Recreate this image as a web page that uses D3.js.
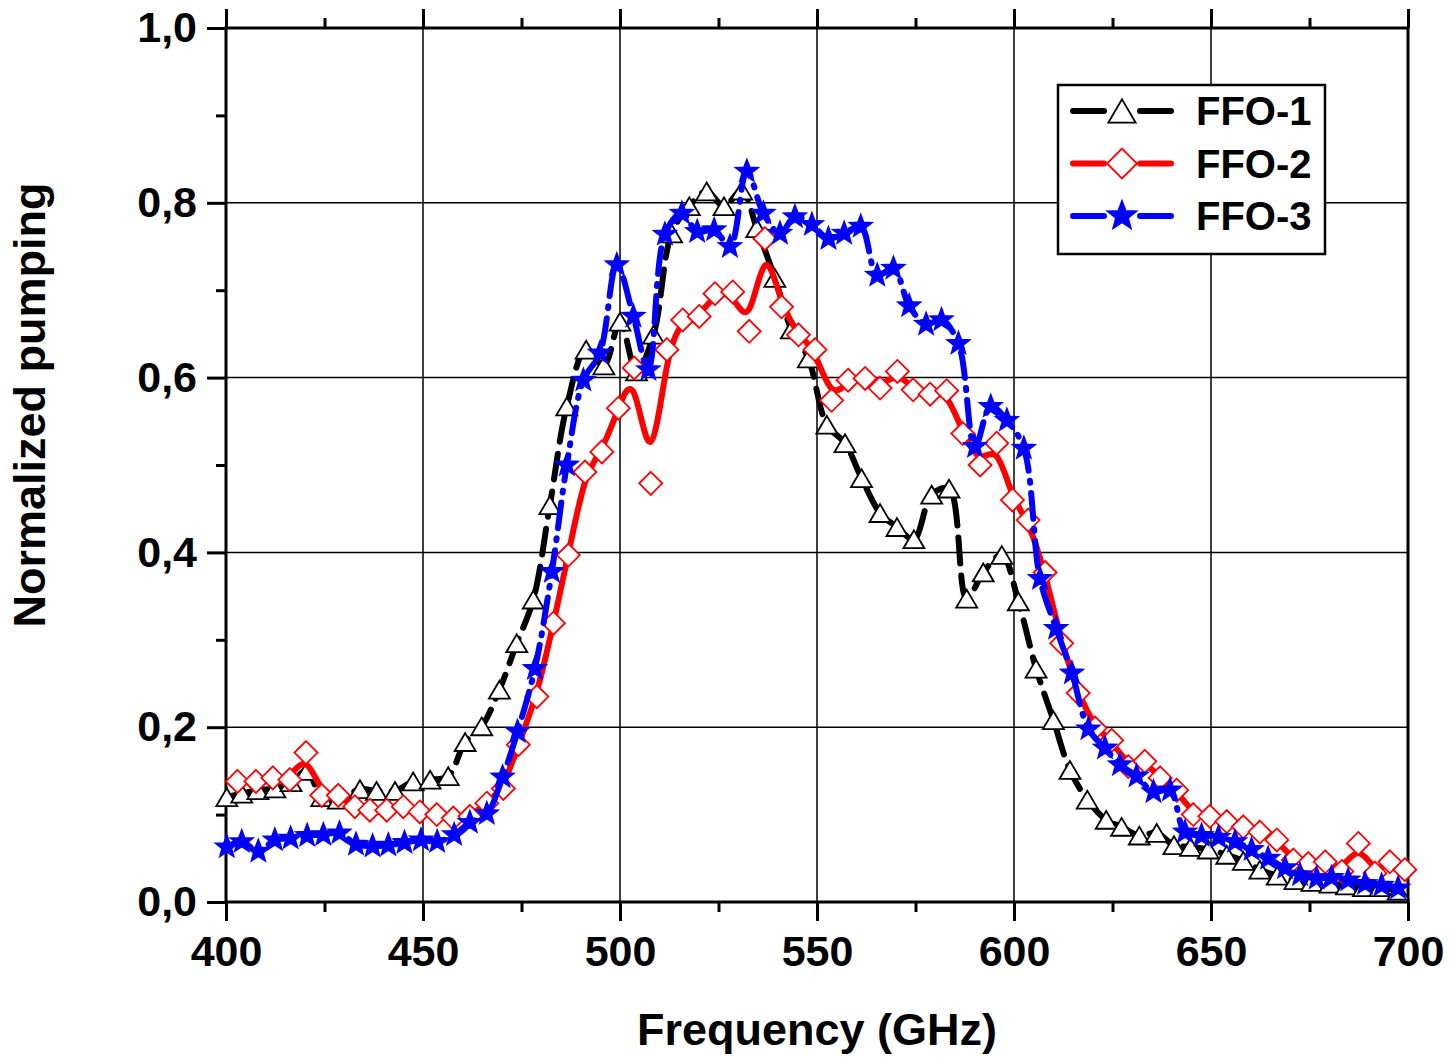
<!DOCTYPE html>
<html lang="en">
<head>
    <meta charset="UTF-8">
    <title>Normalized pumping</title>
    <script src="https://d3js.org/d3.v7.js"></script>
    <style>
        body { margin: 0; background: #fff; }
        text { font-family: "Liberation Sans", Arial, sans-serif; font-weight: bold; }
    </style>
</head>
<body>
<svg></svg>
<script>
    {
        // FFO-1 (black, triangles)
        let ffo1X = [400.2, 404.0, 408.1, 412.4, 416.5, 420.5, 424.3, 428.5, 434.0, 438.2, 442.9, 447.5, 451.8, 456.4,
            460.7, 464.9, 469.4, 473.8, 478.0, 482.2, 486.5, 491.4, 495.9, 500.0, 504.2, 508.5, 513.1, 517.6, 522.0,
            526.4, 530.9, 534.7, 539.3, 543.5, 547.8, 552.5, 557.1, 561.3, 566.0, 570.3, 574.6, 579.1, 583.5, 588.0,
            592.2, 596.9, 601.1, 605.6, 610.0, 614.2, 618.6, 623.4, 627.3, 631.8, 636.2, 640.6, 644.8, 649.3, 654.0,
            658.2, 662.4, 666.8, 671.3, 675.6, 680.2, 684.4, 688.7, 692.9, 697.5];
        let ffo1Y = [0.120, 0.124, 0.128, 0.130, 0.137, 0.150, 0.120, 0.117, 0.129, 0.127, 0.127, 0.138, 0.140, 0.144,
            0.183, 0.201, 0.243, 0.296, 0.346, 0.454, 0.567, 0.632, 0.614, 0.664, 0.607, 0.649, 0.765, 0.796, 0.813,
            0.796, 0.814, 0.771, 0.714, 0.655, 0.622, 0.546, 0.525, 0.485, 0.445, 0.429, 0.415, 0.466, 0.473, 0.347,
            0.377, 0.397, 0.344, 0.267, 0.208, 0.151, 0.117, 0.094, 0.086, 0.076, 0.079, 0.065, 0.063, 0.060, 0.054,
            0.047, 0.037, 0.030, 0.025, 0.023, 0.021, 0.019, 0.017, 0.017, 0.013];

        // FFO-2 (red, diamonds)
        let ffo2X = [402.9, 407.6, 411.9, 416.2, 420.3, 424.3, 428.5, 432.7, 436.5, 440.8, 445.0, 449.2, 453.5, 457.7,
            461.9, 466.2, 470.4, 474.2, 478.9, 483.1, 486.9, 491.1, 495.4, 499.6, 503.6, 507.8, 511.9, 515.9, 520.1,
            524.1, 528.6, 532.8, 536.8, 541.0, 545.3, 549.5, 553.7, 557.9, 562.2, 566.0, 570.4, 574.4, 578.7, 582.9,
            587.0, 591.4, 595.6, 599.6, 603.6, 607.9, 612.1, 616.3, 620.6, 624.8, 629.0, 633.2, 637.1, 641.3, 645.5,
            649.7, 654.0, 658.2, 662.4, 666.7, 670.9, 674.7, 679.0, 683.2, 687.4, 691.6, 695.4, 699.2];
        let ffo2Y = [0.138, 0.138, 0.142, 0.140, 0.171, 0.122, 0.122, 0.109, 0.105, 0.105, 0.109, 0.103, 0.100, 0.096,
            0.098, 0.113, 0.130, 0.180, 0.235, 0.319, 0.397, 0.492, 0.515, 0.565, 0.611, 0.479, 0.632, 0.666, 0.670,
            0.696, 0.698, 0.653, 0.759, 0.681, 0.649, 0.632, 0.574, 0.597, 0.599, 0.588, 0.607, 0.586, 0.581, 0.585,
            0.536, 0.500, 0.525, 0.460, 0.437, 0.377, 0.296, 0.239, 0.199, 0.185, 0.155, 0.161, 0.142, 0.128, 0.100,
            0.098, 0.092, 0.086, 0.080, 0.071, 0.048, 0.044, 0.046, 0.035, 0.067, 0.033, 0.046, 0.037];

        // FFO-3 (blue, stars)
        let ffo3X = [400.2, 404.0, 408.2, 412.4, 416.4, 420.6, 424.7, 428.8, 433.0, 437.2, 441.2, 445.3, 449.5, 453.6,
            457.9, 461.9, 466.2, 470.2, 474.0, 478.4, 482.7, 486.5, 490.7, 494.9, 499.2, 503.4, 507.2, 511.4, 515.7,
            519.6, 523.9, 527.9, 532.2, 536.4, 540.6, 544.4, 548.7, 552.9, 556.9, 561.1, 565.3, 569.4, 573.4, 577.7,
            581.6, 585.9, 590.1, 594.1, 598.2, 602.5, 606.6, 610.7, 614.7, 618.9, 623.1, 626.9, 631.1, 635.4, 639.6,
            643.4, 647.6, 651.9, 656.1, 660.3, 664.5, 668.8, 672.6, 676.8, 680.6, 684.8, 689.1, 693.3, 697.5];
        let ffo3Y = [0.063, 0.069, 0.058, 0.071, 0.073, 0.076, 0.077, 0.079, 0.066, 0.064, 0.065, 0.068, 0.071, 0.069,
            0.077, 0.091, 0.101, 0.143, 0.195, 0.267, 0.378, 0.500, 0.597, 0.628, 0.729, 0.670, 0.609, 0.764, 0.788,
            0.767, 0.769, 0.750, 0.836, 0.788, 0.765, 0.784, 0.775, 0.759, 0.765, 0.773, 0.717, 0.725, 0.682, 0.661,
            0.666, 0.639, 0.521, 0.567, 0.551, 0.519, 0.370, 0.313, 0.262, 0.198, 0.176, 0.157, 0.144, 0.126, 0.128,
            0.080, 0.076, 0.074, 0.069, 0.060, 0.050, 0.039, 0.031, 0.027, 0.028, 0.025, 0.021, 0.019, 0.016];

        let xTicks = [400, 450, 500, 550, 600, 650, 700];
        let xMinor = [425, 475, 525, 575, 625, 675];
        let yTicks = [0, 0.2, 0.4, 0.6, 0.8, 1.0];
        let yMinor = [0.1, 0.3, 0.5, 0.7, 0.9];
        let seriesNames = ["FFO-1", "FFO-2", "FFO-3"];

        let width = 1452;
        let height = 1059;
        let left = 226, right = 1408, top = 28, bottom = 902;

        let svg = d3.select("svg")
            .attr("width", width)
            .attr("height", height);

        let x = d3.scaleLinear().domain([400, 700]).range([left, right]);
        let y = d3.scaleLinear().domain([0, 1]).range([bottom, top]);

        let fmt = d => d3.format(".1f")(d).replace(".", ",");

        // grid
        let grid = svg.append("g");
        grid.selectAll("line.gx").data(xTicks).enter().append("line")
            .attr("x1", d => x(d)).attr("x2", d => x(d))
            .attr("y1", top).attr("y2", bottom)
            .attr("stroke", "#000").attr("stroke-width", 1.5);
        grid.selectAll("line.gy").data(yTicks).enter().append("line")
            .attr("x1", left).attr("x2", right)
            .attr("y1", d => y(d)).attr("y2", d => y(d))
            .attr("stroke", "#000").attr("stroke-width", 1.5);

        // axes
        function styleAxis(g) {
            g.select(".domain").remove();
            g.selectAll(".tick line").attr("stroke", "#000").attr("stroke-width", 3);
            g.selectAll(".tick text").attr("fill", "#000")
                .style("font-size", "43px").style("font-family", "'Liberation Sans', Arial, sans-serif")
                .style("font-weight", "bold");
        }

        svg.append("g").attr("transform", "translate(0," + bottom + ")")
            .call(d3.axisBottom(x).tickValues(xTicks).tickSize(19).tickPadding(14).tickFormat(d3.format("d")))
            .call(styleAxis);
        svg.append("g").attr("transform", "translate(0," + bottom + ")")
            .call(d3.axisBottom(x).tickValues(xMinor).tickSize(10).tickFormat(""))
            .call(styleAxis);
        svg.append("g").attr("transform", "translate(0," + top + ")")
            .call(d3.axisTop(x).tickValues(xTicks).tickSize(19).tickFormat(""))
            .call(styleAxis);
        svg.append("g").attr("transform", "translate(0," + top + ")")
            .call(d3.axisTop(x).tickValues(xMinor).tickSize(10).tickFormat(""))
            .call(styleAxis);
        svg.append("g").attr("transform", "translate(" + left + ",0)")
            .call(d3.axisLeft(y).tickValues(yTicks).tickSize(19).tickPadding(10).tickFormat(fmt))
            .call(styleAxis);
        svg.append("g").attr("transform", "translate(" + left + ",0)")
            .call(d3.axisLeft(y).tickValues(yMinor).tickSize(10).tickFormat(""))
            .call(styleAxis);

        // frame
        svg.append("rect")
            .attr("x", left).attr("y", top)
            .attr("width", right - left).attr("height", bottom - top)
            .attr("fill", "none").attr("stroke", "#000").attr("stroke-width", 3);

        // axis titles
        svg.append("text")
            .attr("x", 817).attr("y", 1045)
            .attr("text-anchor", "middle")
            .style("font-size", "45px")
            .text("Frequency (GHz)");
        svg.append("text")
            .attr("transform", "translate(45,405) rotate(-90)")
            .attr("text-anchor", "middle")
            .style("font-size", "45px")
            .text("Normalized pumping");

        // marker paths
        function triangle(s) {
            let w = s, h = s * 0.85;
            return "M0," + (-h / 2) + "L" + (w / 2) + "," + (h / 2) + "L" + (-w / 2) + "," + (h / 2) + "Z";
        }
        function diamond(s) {
            let r = s / 2;
            return "M0," + (-r) + "L" + r + ",0L0," + r + "L" + (-r) + ",0Z";
        }
        function star(s) {
            let ro = s / 2, ri = ro * 0.42, p = [];
            for (let i = 0; i < 10; i++) {
                let a = -Math.PI / 2 + i * Math.PI / 5;
                let r = i % 2 === 0 ? ro : ri;
                p.push([r * Math.cos(a), r * Math.sin(a)]);
            }
            return "M" + p.map(q => q[0].toFixed(2) + "," + q[1].toFixed(2)).join("L") + "Z";
        }

        let series = [
            {name: seriesNames[0], xs: ffo1X, ys: ffo1Y, color: "#000000", dash: "26,12",
                curve: d3.curveCatmullRom, shape: triangle, size: 21, fill: "#fff", mstroke: "#000"},
            {name: seriesNames[1], xs: ffo2X, ys: ffo2Y, color: "#ff0000", dash: null,
                curve: d3.curveBasis, shape: diamond, size: 23, fill: "#fff", mstroke: "#ff0000"},
            {name: seriesNames[2], xs: ffo3X, ys: ffo3Y, color: "#0000ff", dash: "26,10,2,10",
                curve: d3.curveCatmullRom, shape: star, size: 23, fill: "#0000ff", mstroke: "#0000ff"}
        ];

        let plot = svg.append("g");
        series.forEach(s => {
            let pts = s.xs.map((v, i) => [v, s.ys[i]]);
            let line = d3.line().x(d => x(d[0])).y(d => y(d[1])).curve(s.curve);
            plot.append("path")
                .attr("d", line(pts))
                .attr("fill", "none")
                .attr("stroke", s.color)
                .attr("stroke-width", 6)
                .attr("stroke-linecap", "round")
                .attr("stroke-linejoin", "round")
                .attr("stroke-dasharray", s.dash);
            plot.append("g").selectAll("path").data(pts).enter().append("path")
                .attr("transform", d => "translate(" + x(d[0]) + "," + y(d[1]) + ")")
                .attr("d", s.shape(s.size))
                .attr("fill", s.fill)
                .attr("stroke", s.mstroke)
                .attr("stroke-width", 1.8);
        });

        // legend
        let legend = svg.append("g");
        legend.append("rect")
            .attr("x", 1058).attr("y", 85).attr("width", 267).attr("height", 169)
            .attr("fill", "#fff").attr("stroke", "#000").attr("stroke-width", 2.5);
        let rows = legend.selectAll("g.row").data(series).enter().append("g")
            .attr("transform", (d, i) => "translate(0," + (111 + i * 52.5) + ")");
        rows.append("line").attr("x1", 1073).attr("x2", 1104).attr("y1", 0).attr("y2", 0)
            .attr("stroke", d => d.color).attr("stroke-width", 6).attr("stroke-linecap", "round");
        rows.append("line").attr("x1", 1140).attr("x2", 1171).attr("y1", 0).attr("y2", 0)
            .attr("stroke", d => d.color).attr("stroke-width", 6).attr("stroke-linecap", "round");
        rows.append("path")
            .attr("transform", "translate(1122,0)")
            .attr("d", d => d.shape(d.size * 1.3))
            .attr("fill", d => d.fill).attr("stroke", d => d.mstroke).attr("stroke-width", 1.8);
        rows.append("text")
            .attr("x", 1196).attr("y", 14)
            .style("font-size", "40px")
            .text(d => d.name);
    }
</script>
</body>
</html>
